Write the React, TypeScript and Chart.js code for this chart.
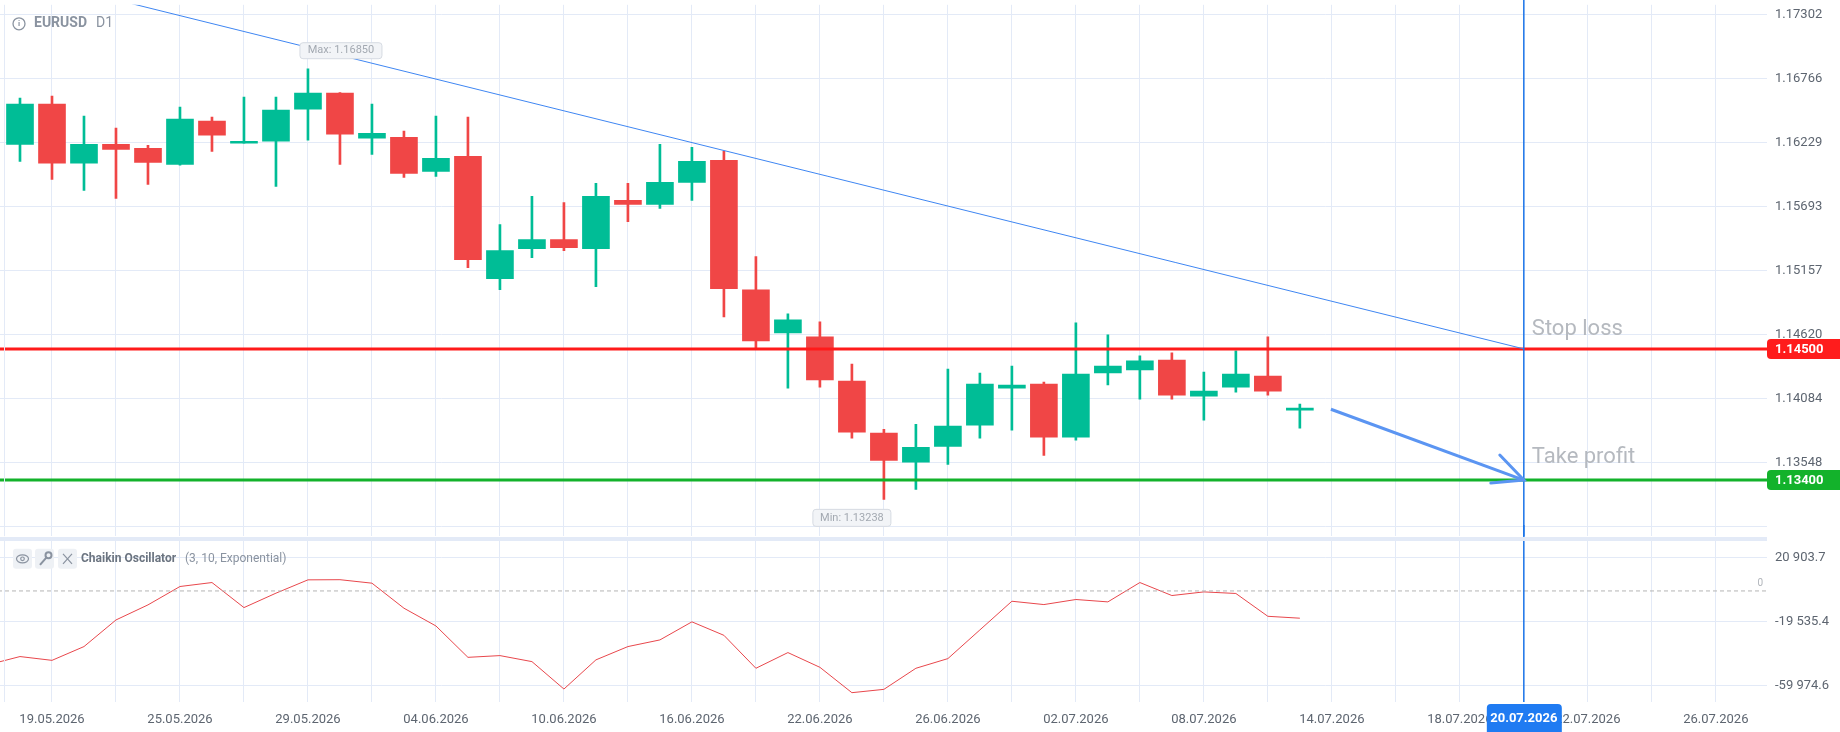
import React, { useEffect, useRef } from "react";
import { Chart, registerables } from "chart.js";
Chart.register(...registerables);

const opens = [1.16216,1.16553,1.16057,1.16216,1.16183,1.16048,1.16410,1.16225,1.16242,1.16511,1.16646,1.16267,1.16275,1.15989,1.16115,1.15089,1.15341,1.15417,1.15341,1.15745,1.15711,1.15897,1.16082,1.14996,1.14634,1.14601,1.14230,1.13793,1.13549,1.13683,1.13860,1.14171,1.14205,1.13759,1.14298,1.14323,1.14407,1.14104,1.14180,1.14272,1.13986];
const highs = [1.16604,1.16620,1.16452,1.16351,1.16208,1.16528,1.16444,1.16612,1.16612,1.16850,1.16650,1.16553,1.16326,1.16452,1.16444,1.15543,1.15779,1.15728,1.15888,1.15888,1.16216,1.16191,1.16157,1.15274,1.14794,1.14727,1.14373,1.13826,1.13868,1.14331,1.14298,1.14356,1.14222,1.14718,1.14617,1.14441,1.14466,1.14306,1.14483,1.14601,1.14037];
const lows = [1.16073,1.15922,1.15829,1.15762,1.15880,1.16040,1.16157,1.16225,1.15863,1.16250,1.16048,1.16132,1.15939,1.15947,1.15181,1.14996,1.15265,1.15324,1.15021,1.15568,1.15678,1.15745,1.14769,1.14508,1.14171,1.14180,1.13751,1.13238,1.13321,1.13532,1.13751,1.13818,1.13607,1.13734,1.14197,1.14079,1.14079,1.13902,1.14138,1.14112,1.13835];
const closes = [1.16553,1.16057,1.16216,1.16174,1.16065,1.16427,1.16292,1.16233,1.16502,1.16646,1.16300,1.16309,1.15972,1.16099,1.15249,1.15324,1.15417,1.15350,1.15779,1.15711,1.15897,1.16073,1.15005,1.14567,1.14744,1.14239,1.13801,1.13565,1.13675,1.13852,1.14205,1.14197,1.13759,1.14289,1.14356,1.14399,1.14112,1.14146,1.14289,1.14146,1.14003];
const chaikinPrev = -46600;
const chaikin = [-41400,-43800,-35100,-18300,-8800,2800,5300,-10500,-1400,7000,7100,4900,-10900,-22100,-41900,-40800,-44600,-61900,-43500,-35100,-30900,-19500,-28000,-48800,-38900,-48200,-64200,-62100,-48800,-42700,-24600,-6500,-8600,-5400,-6900,5300,-2900,-600,-1600,-16000,-17200];

const priceTicks = [1.17302,1.16766,1.16229,1.15693,1.15157,1.1462,1.14084,1.13548,1.13012];
const oscTicks = [20903.7,-19535.4,-59974.6];
const dateLabels = ["19.05.2026","25.05.2026","29.05.2026","04.06.2026","10.06.2026","16.06.2026","22.06.2026","26.06.2026","02.07.2026","08.07.2026","14.07.2026","18.07.2026","20.07.2026","22.07.2026","26.07.2026"];
const dateIdx = [1,5,9,13,17,21,25,29,33,37,41,45,47,49,53];
const gridIdx = [1,3,5,7,9,11,13,15,17,19,21,23,25,27,29,31,33,35,37,39,41,43,45,47,49,51,53];
const markIdx = 47;
const stopLoss = 1.145;
const takeProfit = 1.134;
const trendStart = { x: 3.5, y: 1.17395 };
const trendEnd = { x: 47, y: 1.145 };
const arrowStart = { x: 40.97, y: 1.13994 };
const arrowEnd = { x: 47, y: 1.134 };

const X_MIN = -0.625, X_MAX = 54.6;
const GREEN = "#00bd96", RED = "#f04646";
const GRID = "#e3eaf7", TXT = "#5d6570";
const FONT = "Roboto";
const idx = opens.map((_, i) => i);
const colors = idx.map(i => (closes[i] >= opens[i] ? GREEN : RED));

function fmtOsc(v: number) {
  const neg = v < 0; const a = Math.abs(v).toFixed(1);
  const [ip, dp] = a.split(".");
  const s = ip.replace(/\B(?=(\d{3})+(?!\d))/g, " ");
  return (neg ? "-" : "") + s + "." + dp;
}

function rr(ctx: CanvasRenderingContext2D, x: number, y: number, w: number, h: number, r: any) {
  ctx.beginPath(); ctx.roundRect(x, y, w, h, r);
}

const vline = {
  id: "vline",
  afterDatasetsDraw(chart: any) {
    const ctx = chart.ctx; const x = chart.scales.x.getPixelForValue(markIdx);
    ctx.save(); ctx.strokeStyle = "#1a73e8"; ctx.lineWidth = 1.5;
    ctx.beginPath(); ctx.moveTo(x, 0); ctx.lineTo(x, chart.chartArea.bottom); ctx.stroke();
    ctx.strokeStyle = GRID; ctx.lineWidth = 1;
    ctx.beginPath(); ctx.moveTo(4.5, chart.chartArea.top); ctx.lineTo(4.5, chart.chartArea.bottom); ctx.stroke();
    ctx.restore();
  },
};

const topDeco = {
  id: "topDeco",
  afterDraw(chart: any) {
    const ctx: CanvasRenderingContext2D = chart.ctx; const xs = chart.scales.x, ys = chart.scales.y;
    const ca = chart.chartArea;
    const hy = ca.top + 19;
    ctx.save();
    ctx.strokeStyle = "#8a93a0"; ctx.lineWidth = 1.3;
    ctx.beginPath(); ctx.arc(19, hy, 6, 0, Math.PI * 2); ctx.stroke();
    ctx.fillStyle = "#8a93a0"; ctx.font = `bold 8px ${FONT}`; ctx.textAlign = "center"; ctx.textBaseline = "middle";
    ctx.fillText("i", 19, hy + 0.5);
    ctx.textAlign = "left"; ctx.font = `bold 14px ${FONT}`; ctx.fillText("EURUSD", 34, hy);
    ctx.font = `14px ${FONT}`; ctx.fillText("D1", 96, hy);
    let maxI = 0, minI = 0;
    idx.forEach(i => { if (highs[i] > highs[maxI]) maxI = i; if (lows[i] < lows[minI]) minI = i; });
    ctx.font = `11px ${FONT}`; ctx.textBaseline = "middle"; ctx.textAlign = "center";
    const mx = xs.getPixelForValue(maxI), my = ys.getPixelForValue(highs[maxI]);
    ctx.fillStyle = "#f2f4f7"; ctx.strokeStyle = "#d6dbe2"; ctx.lineWidth = 1;
    rr(ctx, mx - 8, my - 26, 82, 16, 3); ctx.fill(); ctx.stroke();
    ctx.fillStyle = "#a3a9b1"; ctx.fillText("Max: " + highs[maxI].toFixed(5), mx + 33, my - 18);
    const nx = xs.getPixelForValue(minI), ny = ys.getPixelForValue(lows[minI]);
    ctx.fillStyle = "#f2f4f7"; rr(ctx, nx - 71, ny + 10, 78, 17, 3); ctx.fill(); ctx.stroke();
    ctx.fillStyle = "#a3a9b1"; ctx.fillText("Min: " + lows[minI].toFixed(5), nx - 32, ny + 18.5);
    const tx = xs.getPixelForValue(arrowEnd.x), ty = ys.getPixelForValue(arrowEnd.y);
    ctx.strokeStyle = "#5b95f2"; ctx.lineWidth = 3; ctx.lineCap = "round";
    ctx.beginPath(); ctx.moveTo(tx - 24, ty - 25); ctx.lineTo(tx, ty); ctx.lineTo(tx - 33, ty + 3); ctx.stroke();
    const vx = xs.getPixelForValue(markIdx);
    ctx.fillStyle = "#b5b9bf"; ctx.font = `22px ${FONT}`; ctx.textAlign = "left"; ctx.textBaseline = "alphabetic";
    ctx.fillText("Stop loss", vx + 8, ys.getPixelForValue(stopLoss) - 14);
    ctx.fillText("Take profit", vx + 8, ys.getPixelForValue(takeProfit) - 17);
    const badge = (v: number, c: string) => {
      const y = ys.getPixelForValue(v);
      ctx.fillStyle = c; rr(ctx, ca.right, y - 10, 80, 20, [4, 0, 0, 4]); ctx.fill();
      ctx.fillStyle = "#fff"; ctx.font = `bold 13px ${FONT}`; ctx.textBaseline = "middle";
      ctx.fillText(v.toFixed(5), ca.right + 8, y + 1);
    };
    badge(stopLoss, "#ff1c1c"); badge(takeProfit, "#13b22b");
    ctx.restore();
  },
};

const botDeco = {
  id: "botDeco",
  afterDraw(chart: any) {
    const ctx: CanvasRenderingContext2D = chart.ctx; const xs = chart.scales.x, ys = chart.scales.y;
    const ca = chart.chartArea; const t = ca.top;
    ctx.save();
    const bx = [13, 35, 58];
    ctx.fillStyle = "#eef1f5"; bx.forEach(b => { rr(ctx, b, t + 8, 19, 20, 3); ctx.fill(); });
    ctx.strokeStyle = "#8a93a0"; ctx.lineWidth = 1.2;
    ctx.beginPath(); ctx.ellipse(22.5, t + 18, 6, 4, 0, 0, Math.PI * 2); ctx.stroke();
    ctx.beginPath(); ctx.arc(22.5, t + 18, 1.8, 0, Math.PI * 2); ctx.stroke();
    ctx.lineWidth = 2; ctx.beginPath(); ctx.moveTo(40, t + 24); ctx.lineTo(47, t + 16); ctx.stroke();
    ctx.beginPath(); ctx.arc(48.5, t + 14.5, 3, 0, Math.PI * 2); ctx.stroke();
    ctx.lineWidth = 1.2; ctx.beginPath(); ctx.moveTo(63, t + 13); ctx.lineTo(72, t + 23); ctx.moveTo(72, t + 13); ctx.lineTo(63, t + 23); ctx.stroke();
    ctx.fillStyle = "#6b7480"; ctx.font = `bold 12px ${FONT}`; ctx.textBaseline = "middle"; ctx.textAlign = "left";
    ctx.fillText("Chaikin Oscillator", 81, t + 18);
    ctx.fillStyle = "#8a93a0"; ctx.font = `12px ${FONT}`; ctx.fillText("(3, 10, Exponential)", 185, t + 18);
    ctx.fillStyle = "#b0b4ba"; ctx.font = `10px ${FONT}`; ctx.textAlign = "right";
    ctx.fillText("0", ca.right - 4, ys.getPixelForValue(0) - 7);
    const vx = xs.getPixelForValue(markIdx);
    ctx.fillStyle = "#1f7bf2"; rr(ctx, vx - 37, ca.bottom + 2, 75, 30, [4, 4, 0, 0]); ctx.fill();
    ctx.fillStyle = "#fff"; ctx.font = `bold 13px ${FONT}`; ctx.textAlign = "center";
    ctx.fillText(dateLabels[dateIdx.indexOf(markIdx)], vx, ca.bottom + 17);
    ctx.restore();
  },
};

const fixW = (s: any) => { s.width = 73; };

export default function App() {
  const topRef = useRef<HTMLCanvasElement>(null);
  const botRef = useRef<HTMLCanvasElement>(null);
  useEffect(() => {
    const xBase = (showLabels: boolean) => ({
      type: "linear", min: X_MIN, max: X_MAX, offset: false,
      afterBuildTicks: (s: any) => { s.ticks = gridIdx.map(v => ({ value: v })); },
      grid: { color: GRID, drawTicks: false, offset: false },
      border: { display: false },
      ticks: {
        display: showLabels, autoSkip: false, maxRotation: 0, padding: 10, color: TXT,
        font: { family: FONT, size: 13 },
        callback: (v: any) => { const k = dateIdx.indexOf(v); return k >= 0 && v !== markIdx ? dateLabels[k] : ""; },
      },
      afterFit: (s: any) => { s.height = showLabels ? 30 : 0; },
    });
    const flat = (v: number) => [{ x: -2, y: v }, { x: 60, y: v }];
    const top = new Chart(topRef.current!, {
      type: "bar",
      data: {
        datasets: [
          { type: "line", data: flat(stopLoss), borderColor: "#ff1a1a", borderWidth: 3, pointRadius: 0, order: 1 } as any,
          { type: "line", data: flat(takeProfit), borderColor: "#13b22b", borderWidth: 3, pointRadius: 0, order: 1 } as any,
          { type: "line", data: [trendStart, trendEnd], borderColor: "#3f86f2", borderWidth: 1, pointRadius: 0, order: 0 } as any,
          { type: "line", data: [arrowStart, arrowEnd], borderColor: "#5b95f2", borderWidth: 3, pointRadius: 0, order: 0 } as any,
          { data: idx.map(i => ({ x: i, y: [lows[i], highs[i]] })), backgroundColor: colors, barThickness: 2, grouped: false, order: 3 } as any,
          { data: idx.map(i => ({ x: i, y: [opens[i], closes[i]] })), backgroundColor: colors, barThickness: 27, minBarLength: 2, grouped: false, order: 2 } as any,
        ],
      },
      options: {
        animation: false, responsive: false, maintainAspectRatio: false,
        layout: { padding: 0 },
        plugins: { legend: { display: false }, tooltip: { enabled: false } },
        scales: {
          x: xBase(false) as any,
          y: {
            position: "right", min: 1.12929, max: 1.17386,
            afterBuildTicks: (s: any) => { s.ticks = priceTicks.map(v => ({ value: v })); },
            afterFit: fixW,
            grid: { color: GRID, drawTicks: false }, border: { display: false },
            ticks: { padding: 8, color: TXT, font: { family: FONT, size: 13 }, callback: (v: any) => (v === 1.13012 ? "" : Number(v).toFixed(5)) },
          } as any,
        },
      },
      plugins: [vline, topDeco],
    });
    const bot = new Chart(botRef.current!, {
      type: "line",
      data: {
        datasets: [
          { data: flat(0), borderColor: "#b4b4b4", borderWidth: 1, borderDash: [4, 3], pointRadius: 0 },
          { data: [{ x: -1, y: chaikinPrev }, ...idx.map(i => ({ x: i, y: chaikin[i] }))], borderColor: "#e8474c", borderWidth: 1, pointRadius: 0, tension: 0 },
        ] as any,
      },
      options: {
        animation: false, responsive: false, maintainAspectRatio: false,
        layout: { padding: 0 },
        plugins: { legend: { display: false }, tooltip: { enabled: false } },
        scales: {
          x: xBase(true) as any,
          y: {
            position: "right", min: -70084, max: 31645,
            afterBuildTicks: (s: any) => { s.ticks = oscTicks.map(v => ({ value: v })); },
            afterFit: fixW,
            grid: { color: GRID, drawTicks: false }, border: { display: false },
            ticks: { padding: 8, color: TXT, font: { family: FONT, size: 13 }, callback: (v: any) => fmtOsc(Number(v)) },
          } as any,
        },
      },
      plugins: [vline, botDeco],
    });
    return () => { top.destroy(); bot.destroy(); };
  }, []);
  return (
    <div style={{ position: "absolute", left: 0, top: 0, width: 1840, height: 732, background: "#fff", overflow: "hidden" }}>
      <canvas ref={topRef} width={1840} height={563} style={{ position: "absolute", left: 0, top: -11, width: 1840, height: 563 }} />
      <canvas ref={botRef} width={1840} height={207} style={{ position: "absolute", left: 0, top: 525, width: 1840, height: 207 }} />
      <div style={{ position: "absolute", left: 0, top: 537, width: 1767, height: 4, background: "#e3eaf7" }} />
    </div>
  );
}
